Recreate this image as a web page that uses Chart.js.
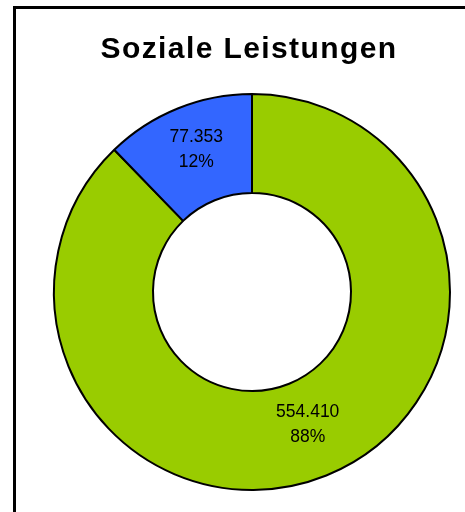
<!DOCTYPE html>
<html>
<head>
<meta charset="utf-8">
<script src="https://cdn.jsdelivr.net/npm/chart.js@4/dist/chart.umd.min.js"></script>
<style>
  html, body { margin: 0; padding: 0; background: #fff; overflow: hidden; }
  #frame { position: absolute; left: 13px; top: 6px; width: 460px; height: 520px; border-left: 3px solid #000; border-top: 3px solid #000; }
  #wrap { position: absolute; left: 0; top: 0; width: 465px; height: 512px; }
</style>
</head>
<body>
<div id="frame"></div>
<div id="wrap"><canvas id="myChart" width="465" height="512"></canvas></div>
<script>
const titleText = "Soziale Leistungen";
const categories = ["Sonstige", "Blau"];
const values = [554410, 77353];
const colors = ["#99cc00", "#3366ff"];

function fmt(n) {
  return String(n).replace(/\B(?=(\d{3})+(?!\d))/g, ".");
}

const sliceLabels = {
  id: 'sliceLabels',
  afterDatasetsDraw(chart) {
    const c = chart.ctx;
    const meta = chart.getDatasetMeta(0);
    const total = values.reduce((a, b) => a + b, 0);
    c.save();
    c.fillStyle = '#000';
    c.font = '17.5px "Liberation Sans", Arial, sans-serif';
    c.textAlign = 'center';
    c.textBaseline = 'middle';
    meta.data.forEach((arc, i) => {
      const p = arc.tooltipPosition();
      c.fillText(fmt(values[i]), p.x, p.y - 17);
      c.fillText(Math.round(values[i] / total * 100) + '%', p.x, p.y + 8);
    });
    // title
    c.font = 'bold 30px "Liberation Sans", Arial, sans-serif';
    c.letterSpacing = '1.4px';
    c.textBaseline = 'alphabetic';
    c.fillText(titleText, 249, 58);
    c.restore();
  }
};

var ctx = document.getElementById('myChart').getContext('2d');
var chart = new Chart(ctx, {
  type: 'doughnut',
  data: {
    labels: categories,
    datasets: [{
      data: values,
      backgroundColor: colors,
      borderColor: '#000',
      borderWidth: 2
    }]
  },
  options: {
    responsive: false,
    animation: false,
    cutout: '50%',
    layout: {
      padding: { left: 53, right: 14, top: 91, bottom: 19 }
    },
    plugins: {
      legend: { display: false },
      tooltip: { enabled: false }
    }
  },
  plugins: [sliceLabels]
});
</script>
</body>
</html>
